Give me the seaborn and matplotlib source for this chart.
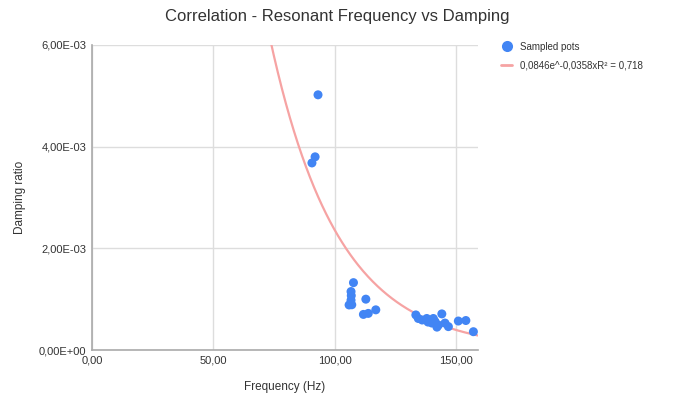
import numpy as np
import pandas as pd
import matplotlib
matplotlib.use("Agg")
import matplotlib.pyplot as plt
from matplotlib.lines import Line2D
from matplotlib.ticker import FuncFormatter
import seaborn as sns

# Data (frequency in Hz, damping ratio)
freq = [93.1, 91.9, 90.6,
        107.7, 106.7, 106.8, 106.7, 105.9, 107.0, 112.8, 111.8, 113.8, 116.9,
        133.4, 134.4, 136.0, 137.9, 138.4, 140.6, 141.3, 140.0, 142.1, 142.7,
        144.1, 145.4, 146.8, 150.9, 154.0, 157.1]
damping = [5.02e-3, 3.80e-3, 3.68e-3,
           1.325e-3, 1.15e-3, 1.07e-3, 0.98e-3, 0.886e-3, 0.89e-3, 1.0e-3, 0.70e-3, 0.72e-3, 0.79e-3,
           0.69e-3, 0.62e-3, 0.59e-3, 0.62e-3, 0.55e-3, 0.62e-3, 0.56e-3, 0.53e-3, 0.45e-3, 0.49e-3,
           0.71e-3, 0.53e-3, 0.46e-3, 0.57e-3, 0.58e-3, 0.36e-3]
trend_a = 0.0846
trend_b = -0.0358
x_ticks = [0, 50, 100, 150]
y_ticks = [0, 2e-3, 4e-3, 6e-3]

df = pd.DataFrame({"Frequency (Hz)": freq, "Damping ratio": damping})
tx = np.linspace(60, 159, 300)
trend = pd.DataFrame({"x": tx, "y": trend_a * np.exp(trend_b * tx)})

sns.set_theme(style="white")
plt.rcParams['font.family'] = ['Liberation Sans', 'DejaVu Sans']

fig = plt.figure(figsize=(6.74, 3.94), dpi=100)
ax = fig.add_axes([92/674, 1-350/394, (478-92)/674, (350-45)/394])

blue = "#4285F4"
red = "#F6A3A3"

sns.lineplot(data=trend, x="x", y="y", ax=ax, color=red, linewidth=1.6, zorder=2)
sns.scatterplot(data=df, x="Frequency (Hz)", y="Damping ratio", ax=ax, color=blue,
                s=42, edgecolor="none", zorder=3)

ax.set_xlim(0, 159)
ax.set_ylim(0, 6e-3)
ax.set_xticks(x_ticks)
ax.set_yticks(y_ticks)
ax.xaxis.set_major_formatter(FuncFormatter(lambda v, p: f"{v:.2f}".replace(".", ",")))
def yfmt(v, p):
    s = f"{v:.2E}"
    return s.replace(".", ",")
ax.yaxis.set_major_formatter(FuncFormatter(yfmt))
ax.grid(True, color="#dddddd", linewidth=1)
ax.set_axisbelow(True)
for sp in ["top", "right"]:
    ax.spines[sp].set_visible(False)
for sp in ["left", "bottom"]:
    ax.spines[sp].set_color("#aaaaaa")
    ax.spines[sp].set_linewidth(1.2)
ax.tick_params(axis="both", length=0, labelsize=8, colors="#333333", pad=4)
ax.set_xlabel("Frequency (Hz)", fontsize=8.5, color="#333333", labelpad=11)
ax.set_ylabel("Damping ratio", fontsize=8.5, color="#333333", labelpad=9)

fig.text(337/674, 1-17/394, "Correlation - Resonant Frequency vs Damping",
         ha="center", va="center", fontsize=12, color="#333333")

handles = [Line2D([], [], marker="o", linestyle="none", color=blue, markersize=8, markeredgewidth=0),
           Line2D([], [], color=red, linewidth=2)]
labels = ["Sampled pots", "0,0846e^-0,0358xR² = 0,718"]
leg = fig.legend(handles, labels, loc="upper left", bbox_to_anchor=(492/674, 1-33/394),
                 frameon=False, fontsize=7, handlelength=1.2, handletextpad=0.8,
                 labelspacing=0.9)
for t in leg.get_texts():
    t.set_color("#333333")

fig.savefig("out.png", dpi=100)
